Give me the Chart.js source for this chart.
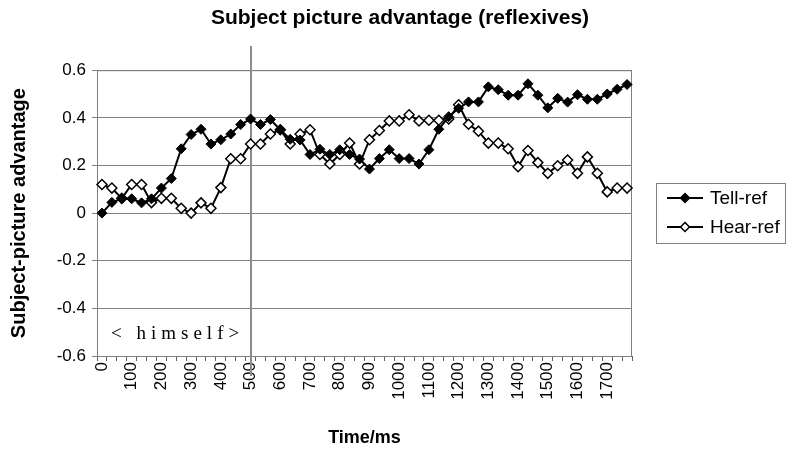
<!DOCTYPE html>
<html>
<head>
<meta charset="utf-8">
<title>Subject picture advantage (reflexives)</title>
<script src="https://cdn.jsdelivr.net/npm/chart.js@4.4.0/dist/chart.umd.min.js"></script>
<style>
  html, body { margin: 0; padding: 0; background: #fff; }
  #wrap { width: 800px; height: 462px; }
</style>
</head>
<body>
<div id="wrap"><canvas id="chart" width="800" height="462"></canvas></div>
<script>
// Time bins (ms), one every 1/3 of 100 ms
const timeLabels = [
  0, 33, 67, 100, 133, 167, 200, 233, 267, 300, 333, 367, 400, 433, 467, 500, 533, 567,
  600, 633, 667, 700, 733, 767, 800, 833, 867, 900, 933, 967, 1000, 1033, 1067, 1100, 1133, 1167,
  1200, 1233, 1267, 1300, 1333, 1367, 1400, 1433, 1467, 1500, 1533, 1567, 1600, 1633, 1667, 1700, 1733, 1767
];

const tellRef = [
  0.000, 0.045, 0.060, 0.060, 0.043, 0.060, 0.105, 0.145, 0.270, 0.330, 0.352, 0.290, 0.308, 0.332,
  0.372, 0.395, 0.372, 0.393, 0.350, 0.310, 0.307, 0.246, 0.268, 0.246, 0.266, 0.246, 0.227, 0.185,
  0.229, 0.266, 0.229, 0.229, 0.206, 0.266, 0.352, 0.405, 0.440, 0.467, 0.467, 0.530, 0.518, 0.495,
  0.495, 0.543, 0.495, 0.442, 0.482, 0.466, 0.497, 0.478, 0.478, 0.500, 0.520, 0.540
];

const hearRef = [
  0.120, 0.105, 0.062, 0.120, 0.120, 0.044, 0.062, 0.062, 0.020, 0.000, 0.043, 0.020, 0.107, 0.228,
  0.228, 0.290, 0.290, 0.332, 0.350, 0.290, 0.332, 0.350, 0.246, 0.206, 0.246, 0.294, 0.206, 0.308,
  0.347, 0.387, 0.387, 0.413, 0.387, 0.390, 0.390, 0.395, 0.455, 0.373, 0.344, 0.294, 0.294, 0.270,
  0.195, 0.263, 0.212, 0.167, 0.199, 0.223, 0.167, 0.236, 0.167, 0.089, 0.105, 0.105
];

const yTicks = [-0.6, -0.4, -0.2, 0, 0.2, 0.4, 0.6];
const markerTime = 500;       // onset of "himself"
const markerText = '< himself>';

const FONT = "'Liberation Sans', Arial, sans-serif";

/**
 * Draws plot frame, the 500 ms marker line, the word label and the legend box
 */
const decorations = {
  id: 'decorations',
  beforeDatasetsDraw(chart) {
    const { ctx, chartArea: a, scales } = chart;
    ctx.save();
    // frame
    ctx.strokeStyle = '#808080';
    ctx.lineWidth = 1;
    ctx.strokeRect(a.left + 0.5, a.top + 0.5, a.right - a.left - 1, a.bottom - a.top);

    // marker line at word onset
    const mx = Math.round(scales.x.getPixelForValue(timeLabels.indexOf(markerTime)));
    ctx.strokeStyle = '#8c8c8c';
    ctx.lineWidth = 2;
    ctx.beginPath();
    ctx.moveTo(mx, 46);
    ctx.lineTo(mx, a.bottom + 20);
    ctx.stroke();

    // word label
    ctx.fillStyle = '#000';
    ctx.font = "19px 'Liberation Serif', 'Times New Roman', serif";
    ctx.letterSpacing = '5px';
    ctx.textBaseline = 'middle';
    ctx.textAlign = 'left';
    ctx.fillText(markerText, a.left + 14, a.bottom - 22);
    ctx.restore();
  },
  afterDraw(chart) {
    const { ctx } = chart;
    ctx.save();
    const bx = 656, by = 183, bw = 129, bh = 60;
    ctx.strokeStyle = '#808080';
    ctx.lineWidth = 1;
    ctx.strokeRect(bx + 0.5, by + 0.5, bw, bh);
    ctx.font = '19px ' + FONT;
    ctx.textBaseline = 'middle';
    ctx.fillStyle = '#000';
    chart.data.datasets.forEach((ds, i) => {
      const y = by + 15 + i * 29;
      ctx.strokeStyle = '#000';
      ctx.lineWidth = 2;
      ctx.beginPath();
      ctx.moveTo(667, y);
      ctx.lineTo(703, y);
      ctx.stroke();
      // diamond marker
      ctx.beginPath();
      ctx.moveTo(685, y - 4.5);
      ctx.lineTo(689.5, y);
      ctx.lineTo(685, y + 4.5);
      ctx.lineTo(680.5, y);
      ctx.closePath();
      ctx.fillStyle = ds.pointBackgroundColor;
      ctx.fill();
      ctx.lineWidth = 1.5;
      ctx.stroke();
      ctx.fillStyle = '#000';
      ctx.fillText(ds.label, 710, y + 1);
    });
    ctx.restore();
  }
};

function createChart() {
  const ctx = document.getElementById('chart');

  new Chart(ctx, {
    type: 'line',
    data: {
      labels: timeLabels,
      datasets: [
        {
          label: 'Tell-ref',
          data: tellRef,
          borderColor: '#000',
          borderWidth: 2,
          pointStyle: 'rectRot',
          pointRadius: 5,
          pointBackgroundColor: '#000',
          pointBorderColor: '#000',
          pointBorderWidth: 1,
          tension: 0
        },
        {
          label: 'Hear-ref',
          data: hearRef,
          borderColor: '#000',
          borderWidth: 2,
          pointStyle: 'rectRot',
          pointRadius: 5,
          pointBackgroundColor: '#fff',
          pointBorderColor: '#000',
          pointBorderWidth: 1.5,
          tension: 0
        }
      ]
    },
    options: {
      responsive: false,
      animation: false,
      events: [],
      layout: { padding: 0 },
      plugins: {
        legend: { display: false },
        tooltip: { enabled: false },
        title: {
          display: true,
          text: 'Subject picture advantage (reflexives)',
          color: '#000',
          font: { family: FONT, size: 21, weight: 'bold' },
          padding: { top: 6, bottom: 39 }
        }
      },
      scales: {
        x: {
          type: 'category',
          offset: true,
          afterFit(scale) { scale.height = 106; },
          grid: {
            offset: true,
            drawOnChartArea: false,
            drawTicks: true,
            tickLength: 5,
            color: '#606060'
          },
          border: { color: '#606060', width: 1 },
          ticks: {
            autoSkip: false,
            maxRotation: 90,
            minRotation: 90,
            padding: 1,
            color: '#000',
            font: { family: FONT, size: 17 },
            callback: function(value, index) {
              return index % 3 === 0 ? String(timeLabels[index]) : '';
            }
          },
          title: {
            display: true,
            text: 'Time/ms',
            color: '#000',
            font: { family: FONT, size: 18, weight: 'bold' },
            padding: { top: 4, bottom: 13 }
          }
        },
        y: {
          min: -0.6,
          max: 0.6,
          afterFit(scale) { scale.width = 97; },
          afterBuildTicks(scale) { scale.ticks = yTicks.map(v => ({ value: v })); },
          grid: {
            color: '#808080',
            drawTicks: true,
            tickLength: 5
          },
          border: { color: '#808080', width: 1 },
          ticks: {
            padding: 6,
            color: '#000',
            font: { family: FONT, size: 17 },
            callback: function(value) {
              return Math.abs(value) < 1e-9 ? '0' : value.toFixed(1);
            }
          },
          title: {
            display: true,
            text: 'Subject-picture advantage',
            color: '#000',
            font: { family: FONT, size: 20, weight: 'bold' },
            padding: { top: 7, bottom: 4 }
          }
        },
        // empty right-hand box that reserves room for the legend
        side: {
          type: 'linear',
          position: 'right',
          min: 0,
          max: 1,
          afterFit(scale) { scale.width = 168; },
          grid: { display: false, drawTicks: false },
          border: { display: false },
          ticks: { display: false },
          title: { display: false }
        }
      }
    },
    plugins: [decorations]
  });
}

createChart();
</script>
</body>
</html>
